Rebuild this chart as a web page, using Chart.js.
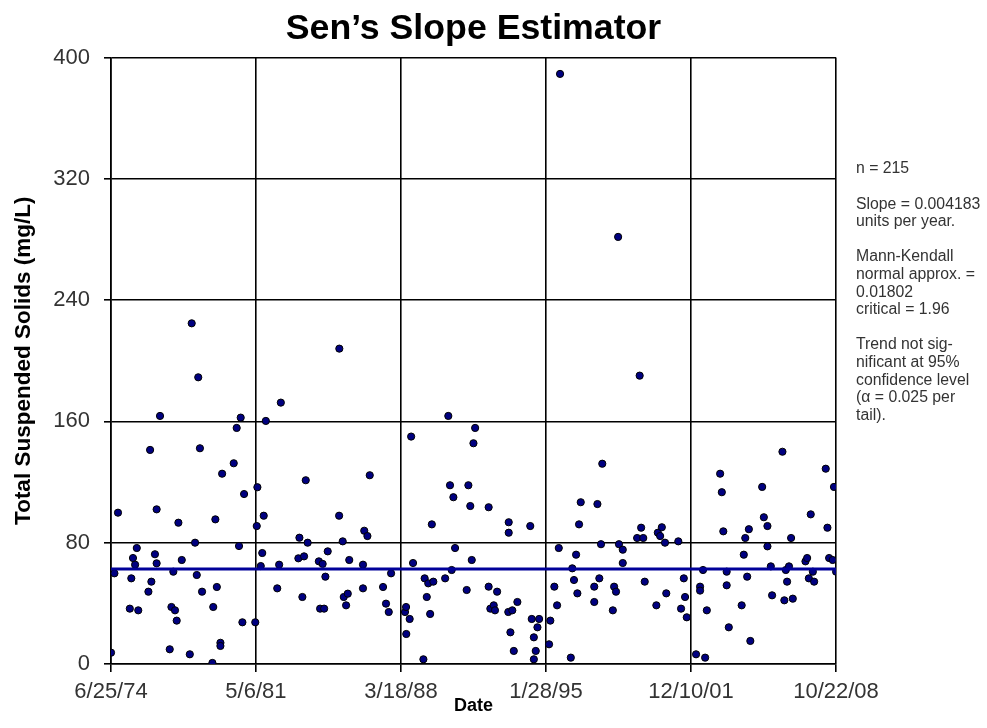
<!DOCTYPE html>
<html>
<head>
<meta charset="utf-8">
<title>Sen's Slope Estimator</title>
<script src="https://cdn.jsdelivr.net/npm/chart.js@4.4.1/dist/chart.umd.min.js"></script>
<style>
  html, body { margin: 0; padding: 0; background: #fff; }
  #wrap { width: 987px; height: 728px; position: relative; }
</style>
</head>
<body>
<div id="wrap"><canvas id="senChart"></canvas></div>
<script>
// sample dates (decimal years) and TSS values
const sampleYears = [
  1974.48, 1974.64, 1974.81, 1975.37, 1975.44, 1975.52, 1975.62, 1975.70, 1975.77, 1976.25,
  1976.33, 1976.39, 1976.56, 1976.64, 1976.64, 1976.80, 1977.26, 1977.34, 1977.43, 1977.51,
  1977.59, 1977.67, 1977.83, 1978.21, 1978.30, 1978.46, 1978.54, 1978.61, 1978.69, 1978.79,
  1979.28, 1979.32, 1979.42, 1979.49, 1979.66, 1979.66, 1979.74, 1980.29, 1980.43, 1980.54,
  1980.62, 1980.70, 1980.78, 1981.31, 1981.38, 1981.41, 1981.57, 1981.64, 1981.71, 1981.81,
  1982.35, 1982.44, 1982.52, 1983.35, 1983.40, 1983.54, 1983.62, 1983.70, 1983.79, 1984.32,
  1984.38, 1984.50, 1984.57, 1984.63, 1984.74, 1985.28, 1985.29, 1985.45, 1985.50, 1985.61,
  1985.69, 1985.76, 1986.41, 1986.41, 1986.47, 1986.62, 1986.73, 1987.36, 1987.50, 1987.63,
  1987.74,
  1988.40, 1988.45, 1988.46, 1988.62, 1988.69, 1988.78, 1989.27, 1989.33, 1989.43, 1989.50,
  1989.59, 1989.67, 1989.74, 1990.30, 1990.45, 1990.53, 1990.61, 1990.69, 1990.77, 1991.32,
  1991.40, 1991.49, 1991.56, 1991.64, 1991.72, 1992.36, 1992.36, 1992.44, 1992.60, 1992.66,
  1992.76, 1993.29, 1993.31, 1993.31, 1993.39, 1993.48, 1993.55, 1993.72, 1994.33, 1994.40,
  1994.50, 1994.50, 1994.59, 1994.67, 1994.75, 1995.22, 1995.28, 1995.47, 1995.60, 1995.68,
  1995.74, 1996.25, 1996.32, 1996.40, 1996.50, 1996.56, 1996.64, 1996.72, 1997.36, 1997.36,
  1997.51, 1997.60, 1997.68, 1997.74, 1998.24, 1998.30, 1998.39, 1998.49, 1998.53, 1998.71,
  1998.71, 1999.39, 1999.51, 1999.58, 1999.68, 1999.75, 2000.30, 2000.37, 2000.48, 2000.56,
  2000.71, 2000.77, 2001.34, 2001.47, 2001.60, 2001.66, 2001.74,
  2002.18, 2002.37, 2002.37, 2002.51, 2002.61, 2002.69, 2003.32, 2003.40, 2003.47, 2003.63,
  2003.63, 2003.73, 2004.34, 2004.44, 2004.51, 2004.60, 2004.68, 2004.75, 2005.31, 2005.39,
  2005.56, 2005.56, 2005.72, 2005.78, 2006.27, 2006.36, 2006.43, 2006.49, 2006.58, 2006.68,
  2006.76, 2007.36, 2007.44, 2007.52, 2007.61, 2007.71, 2007.77, 2008.32, 2008.40, 2008.48,
  2008.65, 2008.71, 2008.81
];
const tssValues = [
  7.5, 59.8, 99.8, 36.5, 56.5, 69.9, 65.5, 76.5, 35.4, 47.7,
  141.2, 54.3, 72.4, 66.4, 102, 163.6, 9.7, 37.6, 60.9, 35.4,
  28.6, 93.2, 68.6, 6.4, 224.7, 80, 58.7, 189.1, 142.3, 47.7,
  0.7, 37.6, 95.4, 50.8, 14, 11.9, 125.5, 132.4, 155.7, 77.8,
  162.5, 27.5, 112.1, 27.5, 91, 116.6, 64.6, 73.2, 97.8, 160.3,
  49.9, 65.5, 172.4, 69.7, 83.3, 44.2, 71, 121.2, 80, 67.7,
  36.5, 66, 36.5, 57.6, 74.3, 97.8, 208, 80.9, 44.2, 38.7,
  46.4, 68.6, 65.5, 49.9, 87.9, 84.4, 124.5, 50.8, 39.8, 34.3,
  59.8,
  34.3, 37.6, 19.8, 29.7, 150, 66.6, 3.1, 56.5, 44.2, 53.2,
  33, 92.1, 54.3, 56.5, 163.6, 117.9, 62, 110, 76.5, 48.8,
  117.9, 104.2, 68.6, 145.6, 155.7, 103.4, 51, 36.5, 38.7, 35.4,
  47.7, 34.3, 93.5, 86.6, 20.9, 35.4, 8.6, 40.9, 91, 29.7,
  17.6, 3.1, 8.6, 24.2, 29.7, 13, 28.6, 51, 38.7, 76.5,
  389.2, 4.2, 63.1, 55.4, 72.1, 46.6, 92.1, 106.7, 51, 40.9,
  105.5, 56.5, 79, 132.1, 35.4, 51, 47.7, 281.7, 79, 75.4,
  66.6, 83.1, 190.2, 89.9, 83.1, 54.3, 38.7, 86.6, 84.4, 90.2,
  80, 46.6, 80.9, 36.5, 56.5, 44.2, 30.8,
  6.4, 51, 48.4, 62, 4.2, 35.4, 125.5, 113.3, 87.5, 60.9,
  51.9, 24.2, 38.7, 72.1, 83.1, 57.6, 88.9, 15.2, 116.8, 96.8,
  91, 77.6, 64.4, 45.3, 140, 42, 62, 54.3, 64.4, 83.1,
  43.1, 67.7, 69.9, 56.5, 98.7, 60.9, 54.3, 128.8, 89.9, 69.9,
  68.6, 116.8, 60.9
];

// Sen's slope line level at the first and last date
const trendLevels = [62.6, 62.7];

const tickYears = [1974.479, 1981.342, 1988.210, 1995.074, 2001.940, 2008.806];
const tickLabels = ['6/25/74', '5/6/81', '3/18/88', '1/28/95', '12/10/01', '10/22/08'];
const yTicks = [0, 80, 160, 240, 320, 400];

const statsLines = [
  'n = 215', '',
  'Slope = 0.004183', 'units per year.', '',
  'Mann-Kendall', 'normal approx. =', '0.01802', 'critical = 1.96', '',
  'Trend not sig-', 'nificant at 95%', 'confidence level', '(\u03b1 = 0.025 per', 'tail).'
];

const FONT = '"Liberation Sans", Arial, Helvetica, sans-serif';

// draws the statistics block to the right of the plot
const statsText = {
  id: 'statsText',
  afterDraw(chart) {
    const ctx = chart.ctx;
    ctx.save();
    ctx.font = '15.8px ' + FONT;
    ctx.fillStyle = '#333';
    ctx.textAlign = 'left';
    ctx.textBaseline = 'middle';
    statsLines.forEach((line, i) => {
      ctx.fillText(line, chart.chartArea.right + 20, 169 + i * 17.6);
    });
    ctx.restore();
  }
};

const points = sampleYears.map((yr, i) => ({ x: yr, y: tssValues[i] }));
const trend = [
  { x: tickYears[0], y: trendLevels[0] },
  { x: tickYears[tickYears.length - 1], y: trendLevels[1] }
];

const ctx = document.getElementById('senChart').getContext('2d');
new Chart(ctx, {
  type: 'scatter',
  data: {
    datasets: [
      {
        type: 'line',
        label: "Sen's slope",
        data: trend,
        borderColor: '#000099',
        borderWidth: 3,
        pointRadius: 0,
        fill: false
      },
      {
        label: 'Total Suspended Solids',
        data: points,
        backgroundColor: '#000080',
        borderColor: '#000000',
        borderWidth: 1,
        pointRadius: 3.6
      }
    ]
  },
  options: {
    responsive: true,
    maintainAspectRatio: false,
    animation: false,
    layout: { padding: { left: 0, right: 151, top: 0, bottom: 0 } },
    plugins: {
      legend: { display: false },
      tooltip: { enabled: false },
      title: {
        display: true,
        fullSize: false,
        text: 'Sen\u2019s Slope Estimator',
        color: '#000',
        font: { family: FONT, size: 35.7, weight: 'bold' },
        padding: { top: 8, bottom: 6.7 }
      }
    },
    scales: {
      x: {
        type: 'linear',
        min: tickYears[0],
        max: tickYears[tickYears.length - 1],
        afterBuildTicks: scale => { scale.ticks = tickYears.map(v => ({ value: v })); },
        afterFit: scale => { scale.height = 64; },
        ticks: {
          autoSkip: false,
          maxRotation: 0,
          padding: 7,
          color: '#333',
          font: { family: FONT, size: 22 },
          callback: (v, i) => tickLabels[i]
        },
        grid: { color: '#000', lineWidth: 1.6, tickLength: 8 },
        border: { color: '#000', width: 1.6 },
        title: {
          display: true,
          text: 'Date',
          color: '#000',
          font: { family: FONT, size: 18, weight: 'bold' },
          padding: { top: 0, bottom: 11 }
        }
      },
      y: {
        min: 0,
        max: 400,
        afterBuildTicks: scale => { scale.ticks = yTicks.map(v => ({ value: v })); },
        afterFit: scale => { scale.width = 111; },
        ticks: {
          padding: 14,
          color: '#333',
          font: { family: FONT, size: 22 }
        },
        grid: { color: '#000', lineWidth: 1.6, tickLength: 7 },
        border: { color: '#000', width: 1.6 },
        title: {
          display: true,
          text: 'Total Suspended Solids (mg/L)',
          color: '#000',
          font: { family: FONT, size: 22.5, weight: 'bold' },
          padding: { top: 10, bottom: 0 }
        }
      }
    }
  },
  plugins: [statsText]
});
</script>
</body>
</html>
